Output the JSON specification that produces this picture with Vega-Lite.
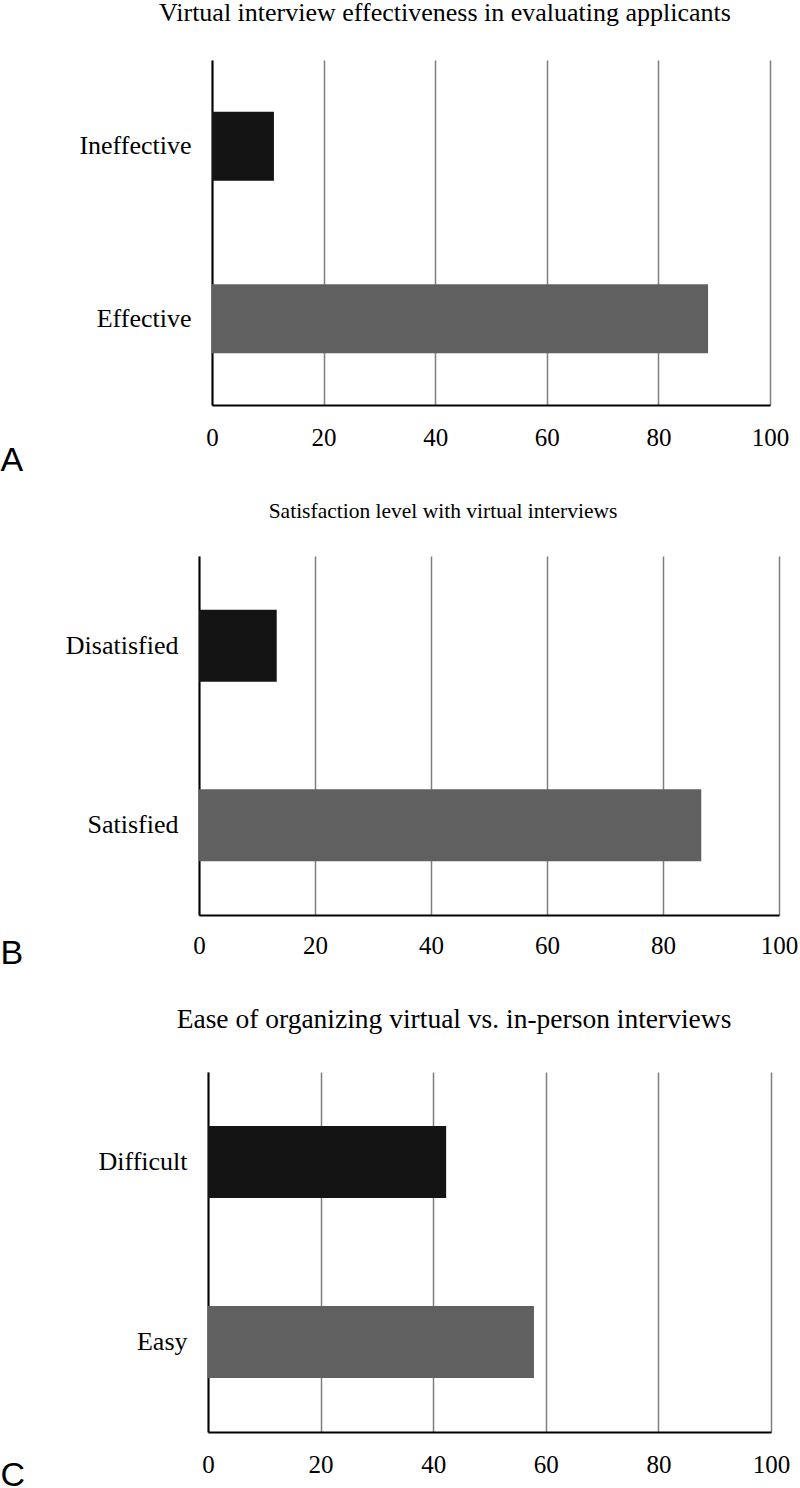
{
  "$schema": "https://vega.github.io/schema/vega-lite/v6.json",
  "padding": 0,
  "background": "white",
  "config": {
    "view": {"stroke": null},
    "font": "Liberation Serif",
    "axis": {"labelFont": "Liberation Serif", "labelColor": "#000000", "ticks": false, "domainColor": "#000000", "domainWidth": 2},
    "title": {"font": "Liberation Serif", "fontWeight": "normal", "color": "#000000", "fontSize": 26}
  },
  "datasets": {
    "survey": [
      {"panel": "A", "category": "Ineffective", "value": 11.1, "tone": "negative"},
      {"panel": "A", "category": "Effective", "value": 88.9, "tone": "positive"},
      {"panel": "B", "category": "Disatisfied", "value": 13.4, "tone": "negative"},
      {"panel": "B", "category": "Satisfied", "value": 86.6, "tone": "positive"},
      {"panel": "C", "category": "Difficult", "value": 42.3, "tone": "negative"},
      {"panel": "C", "category": "Easy", "value": 57.9, "tone": "positive"}
    ]
  },
  "spacing": 24,
  "vconcat": [
    {
      "width": 571, "height": 345,
      "data": {"name": "survey"},
      "transform": [{"filter": "datum.panel == 'A'"}],
      "title": {"text": "Virtual interview effectiveness in evaluating applicants", "frame": "group", "anchor": "middle", "dx": -39.5, "offset": 34},
      "mark": {"type": "bar"},
      "encoding": {
        "y": {"field": "category", "type": "nominal", "sort": ["Ineffective", "Effective"], "scale": {"paddingInner": 0.6, "paddingOuter": 0.3},
              "axis": {"title": null, "labelFontSize": 26, "labelPadding": 21, "grid": false, "offset": -13}},
        "x": {"field": "value", "type": "quantitative", "scale": {"domain": [0, 100], "nice": false, "range": [13, 571]},
              "axis": {"values": [0, 20, 40, 60, 80, 100], "grid": true, "gridColor": "#7f7f7f", "gridWidth": 1.5, "labelFontSize": 25, "labelPadding": 20, "labelFlush": false,
                       "title": "A", "titleFont": "Liberation Sans", "titleFontSize": 34, "titleFontWeight": "normal", "titleColor": "#000000", "titleX": -199, "titleY": 65, "titleAlign": "left", "titleBaseline": "alphabetic"}},
        "color": {"field": "tone", "type": "nominal", "scale": {"domain": ["negative", "positive"], "range": ["#141414", "#606060"]}, "legend": null}
      }
    },
    {
      "spacing": 36,
      "vconcat": [
        {
          "width": 580, "height": 359,
          "data": {"name": "survey"},
          "transform": [{"filter": "datum.panel == 'B'"}],
          "title": {"text": "Satisfaction level with virtual interviews", "frame": "group", "anchor": "middle", "dx": -46, "fontSize": 21.5, "offset": 33.5},
          "mark": {"type": "bar"},
          "encoding": {
            "y": {"field": "category", "type": "nominal", "sort": ["Disatisfied", "Satisfied"], "scale": {"paddingInner": 0.6, "paddingOuter": 0.3},
                  "axis": {"title": null, "labelFontSize": 26, "labelPadding": 21, "grid": false}},
            "x": {"field": "value", "type": "quantitative", "scale": {"domain": [0, 100], "nice": false},
                  "axis": {"values": [0, 20, 40, 60, 80, 100], "grid": true, "gridColor": "#7f7f7f", "gridWidth": 1.5, "labelFontSize": 25, "labelPadding": 18, "labelFlush": false,
                           "title": "B", "titleFont": "Liberation Sans", "titleFontSize": 34, "titleFontWeight": "normal", "titleColor": "#000000", "titleX": -199, "titleY": 48, "titleAlign": "left", "titleBaseline": "alphabetic"}},
            "color": {"field": "tone", "type": "nominal", "scale": {"domain": ["negative", "positive"], "range": ["#141414", "#606060"]}, "legend": null}
          }
        },
        {
          "width": 572, "height": 360,
          "data": {"name": "survey"},
          "transform": [{"filter": "datum.panel == 'C'"}],
          "title": {"text": "Ease of organizing virtual vs. in-person interviews", "frame": "group", "anchor": "middle", "dx": -31, "fontSize": 27.5, "offset": 38.5},
          "mark": {"type": "bar"},
          "encoding": {
            "y": {"field": "category", "type": "nominal", "sort": ["Difficult", "Easy"], "scale": {"paddingInner": 0.6, "paddingOuter": 0.3},
                  "axis": {"title": null, "labelFontSize": 26, "labelPadding": 21, "grid": false, "offset": -9}},
            "x": {"field": "value", "type": "quantitative", "scale": {"domain": [0, 100], "nice": false, "range": [9, 572]},
                  "axis": {"values": [0, 20, 40, 60, 80, 100], "grid": true, "gridColor": "#7f7f7f", "gridWidth": 1.5, "labelFontSize": 25, "labelPadding": 20, "labelFlush": false,
                           "title": "C", "titleFont": "Liberation Sans", "titleFontSize": 34, "titleFontWeight": "normal", "titleColor": "#000000", "titleX": -199, "titleY": 53, "titleAlign": "left", "titleBaseline": "alphabetic"}},
            "color": {"field": "tone", "type": "nominal", "scale": {"domain": ["negative", "positive"], "range": ["#141414", "#606060"]}, "legend": null}
          }
        }
      ]
    }
  ]
}
